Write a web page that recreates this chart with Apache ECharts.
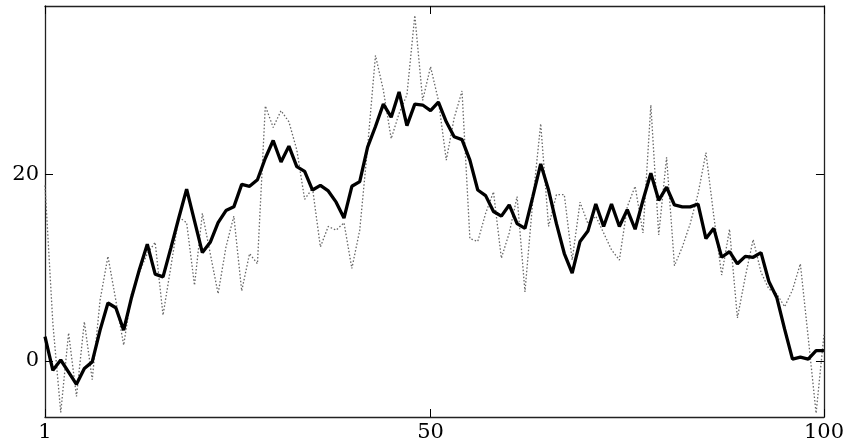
<!DOCTYPE html>
<html>
<head>
<meta charset="utf-8">
<script src="https://cdn.jsdelivr.net/npm/echarts@6/dist/echarts.min.js"></script>
<style>html,body{margin:0;padding:0;background:#fff;}#c{width:847px;height:443px;}</style>
</head>
<body>
<div id="c"></div>
<script>
var smoothValues = [2.6, -1.0, 0.1, -1.2, -2.5, -0.8, -0.1, 3.3, 6.2, 5.7,
  3.3, 6.8, 9.8, 12.5, 9.3, 9.0, 12.1, 15.3, 18.4, 15.0,
  11.6, 12.7, 14.8, 16.1, 16.5, 18.9, 18.7, 19.4, 21.7, 23.6,
  21.3, 23.0, 20.8, 20.3, 18.3, 18.8, 18.2, 17.0, 15.3, 18.7,
  19.2, 22.9, 25.1, 27.5, 26.1, 28.8, 25.2, 27.5, 27.4, 26.8,
  27.7, 25.6, 24.0, 23.7, 21.5, 18.3, 17.7, 16.0, 15.5, 16.7,
  14.7, 14.2, 17.6, 21.1, 18.3, 14.7, 11.5, 9.4, 12.8, 13.9,
  16.8, 14.4, 16.8, 14.4, 16.2, 14.1, 17.2, 20.1, 17.2, 18.6,
  16.7, 16.5, 16.5, 16.8, 13.1, 14.2, 11.1, 11.7, 10.4, 11.2,
  11.1, 11.6, 8.5, 6.8, 3.4, 0.2, 0.4, 0.2, 1.1, 1.1];
var noisyValues = [18.8, 4.0, -5.5, 3.0, -3.8, 4.2, -2.0, 6.5, 11.2, 6.5,
  1.7, 7.2, 9.5, 11.5, 12.7, 4.9, 10.1, 15.4, 14.8, 8.1,
  15.8, 11.5, 7.2, 12.2, 15.5, 7.5, 11.5, 10.4, 27.3, 25.0,
  26.8, 25.6, 22.6, 17.3, 18.5, 12.2, 14.4, 14.0, 14.8, 9.9,
  14.0, 22.9, 32.7, 29.0, 23.8, 26.5, 28.5, 37.0, 27.9, 31.5,
  27.9, 21.5, 26.0, 28.9, 13.1, 12.8, 15.8, 18.1, 11.0, 13.7,
  17.6, 7.4, 17.2, 25.4, 14.4, 17.8, 17.8, 10.8, 17.0, 14.7,
  15.5, 13.7, 11.9, 10.8, 16.5, 18.7, 13.7, 27.4, 13.5, 21.8,
  10.2, 12.2, 14.7, 17.9, 22.3, 15.5, 9.2, 14.1, 4.6, 9.0,
  13.0, 9.5, 7.7, 7.2, 5.8, 7.6, 10.4, 2.5, -5.6, 2.8];
var xTicks = [1, 50, 100];
var yTicks = [0, 20];

function toPairs(vals) { return vals.map(function (v, i) { return [i + 1, v]; }); }

var font = 'DejaVu Serif';
var chart = echarts.init(document.getElementById('c'));
var tickStyle = { show: true, inside: true, length: 8, lineStyle: { color: '#000', width: 1 } };
var lineStyleAxis = { show: true, onZero: false, lineStyle: { color: '#222', width: 1.3 } };
chart.setOption({
  animation: false,
  grid: { left: 45, right: 22, top: 6, bottom: 26 },
  xAxis: [
    { type: 'value', min: 1, max: 100, position: 'bottom',
      axisLine: lineStyleAxis, splitLine: { show: false },
      axisTick: Object.assign({ customValues: xTicks }, tickStyle),
      axisLabel: { customValues: xTicks, color: '#000', fontFamily: font, fontSize: 21, margin: 5 } },
    { type: 'value', min: 1, max: 100, position: 'top',
      axisLine: lineStyleAxis, splitLine: { show: false },
      axisTick: Object.assign({ customValues: xTicks }, tickStyle),
      axisLabel: { show: false } }
  ],
  yAxis: [
    { type: 'value', min: -6, max: 38, position: 'left',
      axisLine: lineStyleAxis, splitLine: { show: false },
      axisTick: Object.assign({ customValues: yTicks }, tickStyle),
      axisLabel: { customValues: yTicks, color: '#000', fontFamily: font, fontSize: 21, margin: 6 } },
    { type: 'value', min: -6, max: 38, position: 'right',
      axisLine: lineStyleAxis, splitLine: { show: false },
      axisTick: Object.assign({ customValues: yTicks }, tickStyle),
      axisLabel: { show: false } }
  ],
  series: [
    { type: 'line', data: toPairs(noisyValues), showSymbol: false, symbol: 'none',
      lineStyle: { color: '#666', width: 1.3, type: [1.5, 2] }, z: 2 },
    { type: 'line', data: toPairs(smoothValues), showSymbol: false, symbol: 'none',
      lineStyle: { color: '#000', width: 3.3 }, z: 3 }
  ]
});
</script>
</body>
</html>
